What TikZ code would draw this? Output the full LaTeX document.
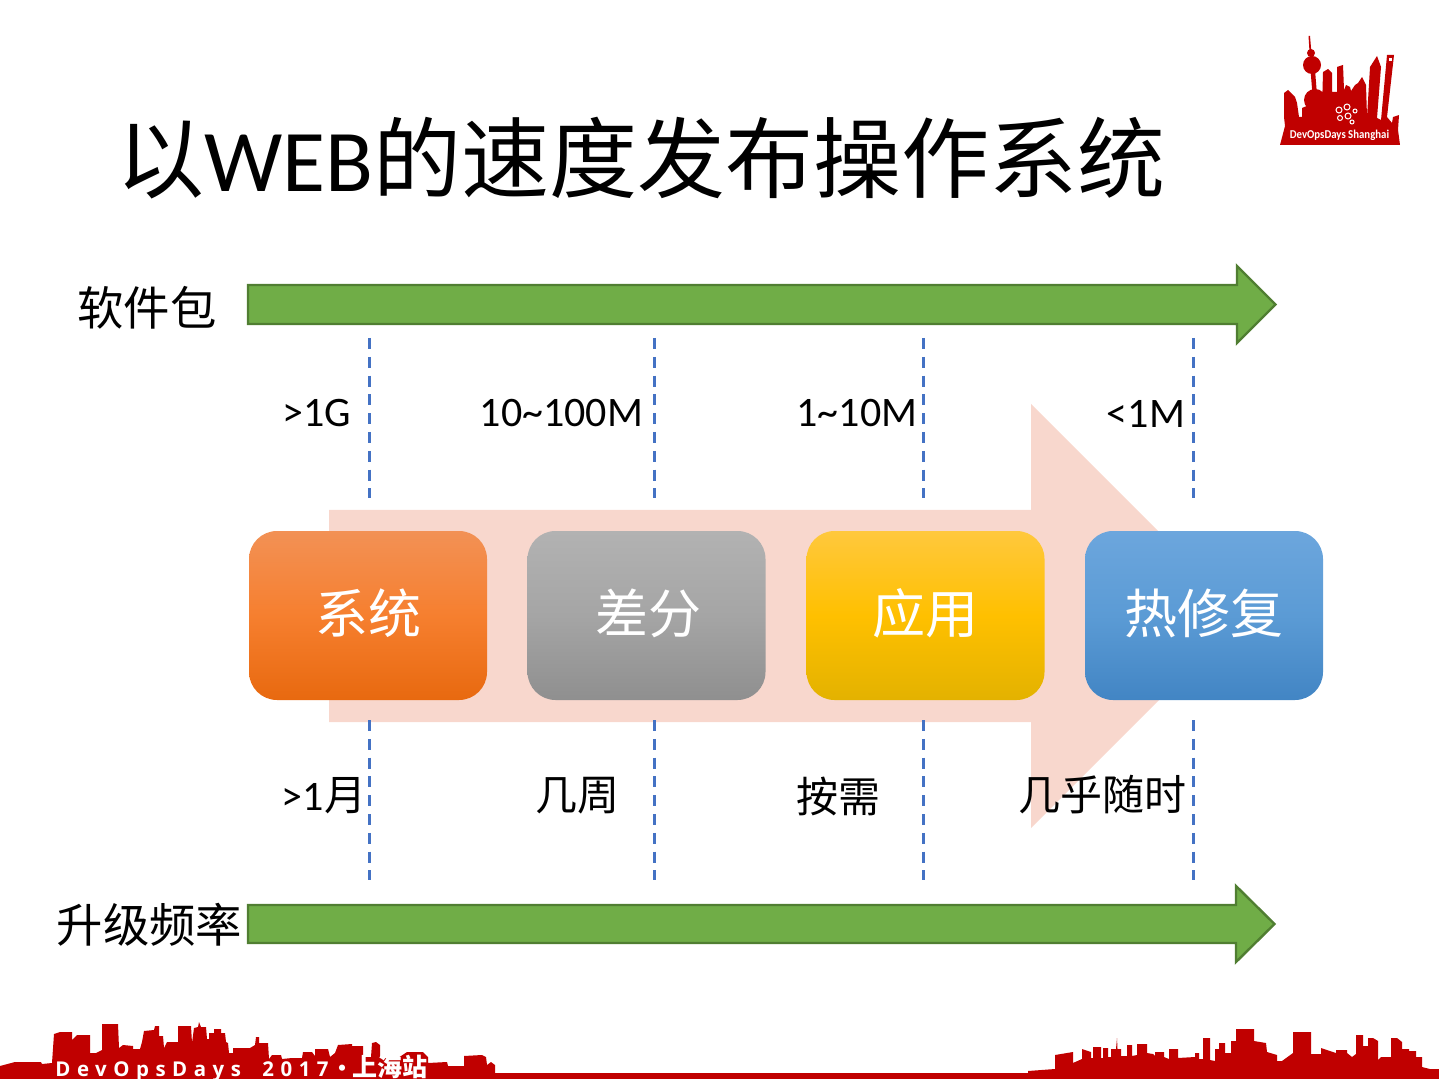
\documentclass[tikz,border=0pt]{standalone}
\usepackage{fontspec}
\setmainfont{Carlito}
\newfontfamily\cjk{Noto Sans CJK SC}
\newfontfamily\footfont[LetterSpace=32]{Open Sans}
\definecolor{logored}{HTML}{C00000}
\definecolor{arrowgreen}{HTML}{70AD47}
\definecolor{arrowedge}{HTML}{507E32}
\definecolor{arrowpink}{HTML}{F8D7CD}
\definecolor{guideblue}{HTML}{4472C4}
\definecolor{orangetop}{HTML}{F29155}
\definecolor{orangemid}{HTML}{F67F2F}
\definecolor{orangelow}{HTML}{E8690F}
\definecolor{greytop}{HTML}{B2B2B2}
\definecolor{greymid}{HTML}{A5A5A5}
\definecolor{greylow}{HTML}{8F8F8F}
\definecolor{goldtop}{HTML}{FFC83D}
\definecolor{goldmid}{HTML}{FFC000}
\definecolor{goldlow}{HTML}{E3B200}
\definecolor{bluetop}{HTML}{6CA6DD}
\definecolor{bluemid}{HTML}{5B9BD5}
\definecolor{bluelow}{HTML}{4285C4}
\tikzset{
    greenarrow/.style = {draw = arrowedge, fill = arrowgreen, line width = 1.2pt},
    guide/.style = {draw = guideblue, line width = 1.25pt, dash pattern = on 5.5pt off 3.9pt},
    skyline/.style = {fill = logored},
    tagtext/.style = {font = \fontsize{21}{25}\selectfont, text = black, inner sep = 0pt},
    rowtext/.style = {font = \cjk\fontsize{23.2}{28}\selectfont, text = black, inner sep = 0pt},
    stage/.style = {
        rounded corners = 14pt, minimum width = 119pt, minimum height = 84.5pt,
        inner sep = 0pt, text = white, font = \cjk\fontsize{26.5}{32}\selectfont,
        text height = 21pt, text depth = 3.5pt
    }
}

\begin{document}
\begin{tikzpicture}[%
        x = 0.5pt,
        y = -0.5pt
    ]

    \useasboundingbox (0, 0) rectangle (1439, 1079);

    % Title line.
    \node[inner sep = 0pt, font = \fontsize{44}{50}\selectfont] (title) at (641, 158.5)
        {{\cjk 以}WEB{\cjk 的速度发布操作系统}};

    % The two green arrows and their row labels.
    \draw[greenarrow] (248, 285) -- (1237, 285) -- (1237, 266) -- (1275.5, 304.5)
        -- (1237, 343) -- (1237, 324) -- (248, 324) -- cycle;
    \draw[greenarrow] (248, 905) -- (1236, 905) -- (1236, 886) -- (1274.5, 924)
        -- (1236, 962) -- (1236, 943) -- (248, 943) -- cycle;
    \node[rowtext] (rowsize) at (147, 308) {软件包};
    \node[rowtext] (rowfreq) at (149.5, 925) {升级频率};

    % Wide pale arrow behind the boxes.
    \fill[arrowpink] (329, 510) -- (1031, 510) -- (1031, 404) -- (1243, 616)
        -- (1031, 828) -- (1031, 722) -- (329, 722) -- cycle;

    % Dashed guides, upper and lower.
    \draw[guide] (369.5, 338) -- (369.5, 498);
    \draw[guide] (654.5, 338) -- (654.5, 498);
    \draw[guide] (923.5, 338) -- (923.5, 498);
    \draw[guide] (1193.5, 338) -- (1193.5, 498);
    \draw[guide] (369.5, 720) -- (369.5, 880);
    \draw[guide] (654.5, 720) -- (654.5, 880);
    \draw[guide] (923.5, 720) -- (923.5, 880);
    \draw[guide] (1193.5, 720) -- (1193.5, 880);

    % Sizes above the boxes.
    \node[tagtext] (sizea) at (317, 413.5) {>1G};
    \node[tagtext] (sizeb) at (561.5, 413.5) {10\char`~100M};
    \node[tagtext] (sizec) at (857, 413.5) {1\char`~10M};
    \node[tagtext] (sized) at (1146, 413.5) {<1M};

    % Frequencies below the boxes.
    \node[tagtext] (freqa) at (324, 796) {>1{\cjk 月}};
    \node[tagtext] (freqb) at (577, 796) {\cjk 几周};
    \node[tagtext] (freqc) at (838, 796) {\cjk 按需};
    \node[tagtext] (freqd) at (1102, 795) {\cjk 几乎随时};

    % The four boxes.
    \node[stage, top color = orangetop, bottom color = orangelow, middle color = orangemid] (system) at (368, 615.5) {系统};
    \node[stage, top color = greytop, bottom color = greylow, middle color = greymid] (delta) at (646.5, 615.5) {\hspace*{1.5pt}差分};
    \node[stage, top color = goldtop, bottom color = goldlow, middle color = goldmid] (app) at (925.5, 615.5) {应用};
    \node[stage, top color = bluetop, bottom color = bluelow, middle color = bluemid] (patch) at (1204, 615.5) {热修复};

    % Logo, upper right.
    \fill[skyline] (1280, 145) -- (1285, 126) -- (1284, 117) -- (1284, 93) -- (1288, 90)
        -- (1295, 97) -- (1297, 103) -- (1299, 117) -- (1302, 117) -- (1302, 108)
        -- (1309, 105) -- (1322, 108) -- (1323, 72) -- (1328, 69) -- (1332, 73)
        -- (1332, 92) -- (1337, 92) -- (1337, 67) -- (1343, 65) -- (1344, 90)
        -- (1346, 85) -- (1350, 87) -- (1351, 91) -- (1355, 85) -- (1358, 83)
        -- (1362, 77) -- (1366, 85) -- (1367, 117) -- (1370, 67) -- (1377, 56)
        -- (1381, 67) -- (1377, 118) -- (1381, 120) -- (1387, 55) -- (1394, 55)
        -- (1387, 117) -- (1392, 123) -- (1393, 117) -- (1399, 115) -- (1398, 130)
        -- (1400, 145) -- cycle;
    \fill[skyline] (1315, 100) circle (11);
    \fill[skyline] (1312, 65) circle (9);
    \fill[skyline] (1311, 53) circle (4);
    \fill[skyline] (1308.5, 36) -- (1310, 36) -- (1312, 60) -- (1310, 60) -- cycle;
    \fill[skyline] (1310.5, 70) -- (1315, 70) -- (1317, 95) -- (1312.5, 95) -- cycle;
    \fill[white] (1389, 58) rectangle (1392, 61);
    \draw[white, line width = 0.5pt] (1339, 110) circle (3) (1347, 107) circle (3)
        (1340, 118) circle (2.5) (1348, 116) circle (3) (1352, 122) circle (2)
        (1355, 111) circle (2);
    \node[inner sep = 0pt, text = white, font = \bfseries\fontsize{6}{7}\selectfont] (logotext) at (1339.5, 135)
        {\scalebox{0.9}[1]{DevOpsDays Shanghai}};

    % Skyline at the foot, left part running into the strip.
    \fill[skyline] (0, 1079) -- (0, 1066) -- (15, 1062) -- (41, 1062) -- (42, 1064) -- (52, 1063)
        -- (54, 1034) -- (60, 1032) -- (72, 1032) -- (72, 1040) -- (77, 1035) -- (90, 1035)
        -- (90, 1053) -- (96, 1053) -- (102, 1050) -- (102, 1024) -- (118, 1024) -- (119, 1048)
        -- (123, 1045) -- (133, 1046) -- (133, 1049) -- (140, 1049) -- (142, 1042) -- (144, 1031)
        -- (154, 1030) -- (155, 1026) -- (159, 1026) -- (159, 1036) -- (163, 1036) -- (164, 1048)
        -- (167, 1042) -- (178, 1042) -- (178, 1026) -- (191, 1026) -- (192, 1043) -- (194, 1028)
        -- (198, 1027) -- (199, 1022) -- (201, 1027) -- (206, 1027) -- (207, 1039) -- (209, 1039)
        -- (209, 1033) -- (214, 1033) -- (214, 1029) -- (221, 1029) -- (221, 1033) -- (225, 1033)
        -- (226, 1042) -- (228, 1043) -- (229, 1053) -- (233, 1053) -- (233, 1048) -- (250, 1048)
        -- (255, 1045) -- (256, 1037) -- (259, 1037) -- (259, 1043) -- (268, 1043) -- (269, 1059)
        -- (272, 1055) -- (281, 1055) -- (282, 1059) -- (292, 1058) -- (302, 1058) -- (303, 1052)
        -- (312, 1052) -- (315, 1056) -- (315, 1049) -- (328, 1049) -- (330, 1057) -- (335, 1053)
        -- (338, 1045) -- (352, 1044) -- (352, 1046) -- (363, 1046) -- (363, 1057) -- (371, 1057)
        -- (372, 1043) -- (376, 1042) -- (380, 1045) -- (380, 1058) -- (398, 1058) -- (407, 1052)
        -- (423, 1052) -- (428, 1057) -- (428, 1063) -- (447, 1062) -- (448, 1066) -- (464, 1066)
        -- (464, 1056) -- (482, 1055) -- (486, 1057) -- (487, 1065) -- (491, 1062) -- (495, 1065)
        -- (495, 1073) -- (1028, 1073)
        % right part
        -- (1028, 1071) -- (1055, 1069) -- (1055, 1055) -- (1073, 1052) -- (1073, 1063)
        -- (1082, 1059) -- (1082, 1049) -- (1091, 1052) -- (1091, 1058) -- (1093, 1058)
        -- (1093, 1047) -- (1101, 1047) -- (1101, 1058) -- (1103, 1058) -- (1103, 1048)
        -- (1108, 1048) -- (1108, 1057) -- (1111, 1057) -- (1111, 1049) -- (1116, 1049)
        -- (1117, 1038) -- (1117.5, 1049) -- (1121, 1049) -- (1121, 1056) -- (1127, 1056)
        -- (1127, 1045) -- (1132, 1045) -- (1132, 1056) -- (1137, 1055) -- (1137, 1044)
        -- (1147, 1044) -- (1147, 1053) -- (1153, 1054) -- (1155, 1056) -- (1155, 1052)
        -- (1164, 1052) -- (1164, 1057) -- (1169, 1059) -- (1169, 1049) -- (1178, 1049)
        -- (1178, 1058) -- (1195, 1057) -- (1195, 1053) -- (1199, 1053) -- (1199, 1059)
        -- (1203, 1059) -- (1203, 1038) -- (1210, 1038) -- (1210, 1060) -- (1215, 1061)
        -- (1215, 1049) -- (1219, 1049) -- (1219, 1043) -- (1225, 1043) -- (1225, 1053)
        -- (1231, 1053) -- (1231, 1041) -- (1236, 1041) -- (1236, 1029) -- (1254, 1029)
        -- (1254, 1041) -- (1266, 1043) -- (1267, 1052) -- (1277, 1055) -- (1277, 1061)
        -- (1282, 1061) -- (1293, 1053) -- (1293, 1032) -- (1311, 1032) -- (1311, 1054)
        -- (1321, 1054) -- (1321, 1048) -- (1336, 1053) -- (1336, 1050) -- (1347, 1050)
        -- (1347, 1053) -- (1352, 1057) -- (1356, 1054) -- (1356, 1035) -- (1363, 1035)
        -- (1363, 1046) -- (1368, 1046) -- (1368, 1038) -- (1373, 1038) -- (1378, 1041)
        -- (1378, 1060) -- (1381, 1057) -- (1391, 1057) -- (1391, 1038) -- (1397, 1038)
        -- (1402, 1042) -- (1402, 1049) -- (1409, 1049) -- (1409, 1051) -- (1416, 1051)
        -- (1416, 1057) -- (1422, 1057) -- (1422, 1067) -- (1430, 1069) -- (1439, 1069)
        -- (1439, 1079) -- cycle;

    % Words in the skyline.
    \node[anchor = base west, inner sep = 0pt, text = white, font = \footfont\bfseries\fontsize{10.2}{12}\selectfont] (footname) at (55, 1076)
        {DevOpsDays};
    \node[anchor = base west, inner sep = 0pt, text = white, font = \footfont\bfseries\fontsize{10.2}{12}\selectfont] (footyear) at (262, 1076)
        {2017};
    \node[anchor = base, inner sep = 0pt, text = white, font = \cjk\bfseries\fontsize{11}{12}\selectfont] (footdot) at (342, 1076)
        {·};
    \node[anchor = base west, inner sep = 0pt, text = white, font = \cjk\bfseries\fontsize{12.5}{14}\selectfont] (footcity) at (352, 1076)
        {上海站};

\end{tikzpicture}
\end{document}
